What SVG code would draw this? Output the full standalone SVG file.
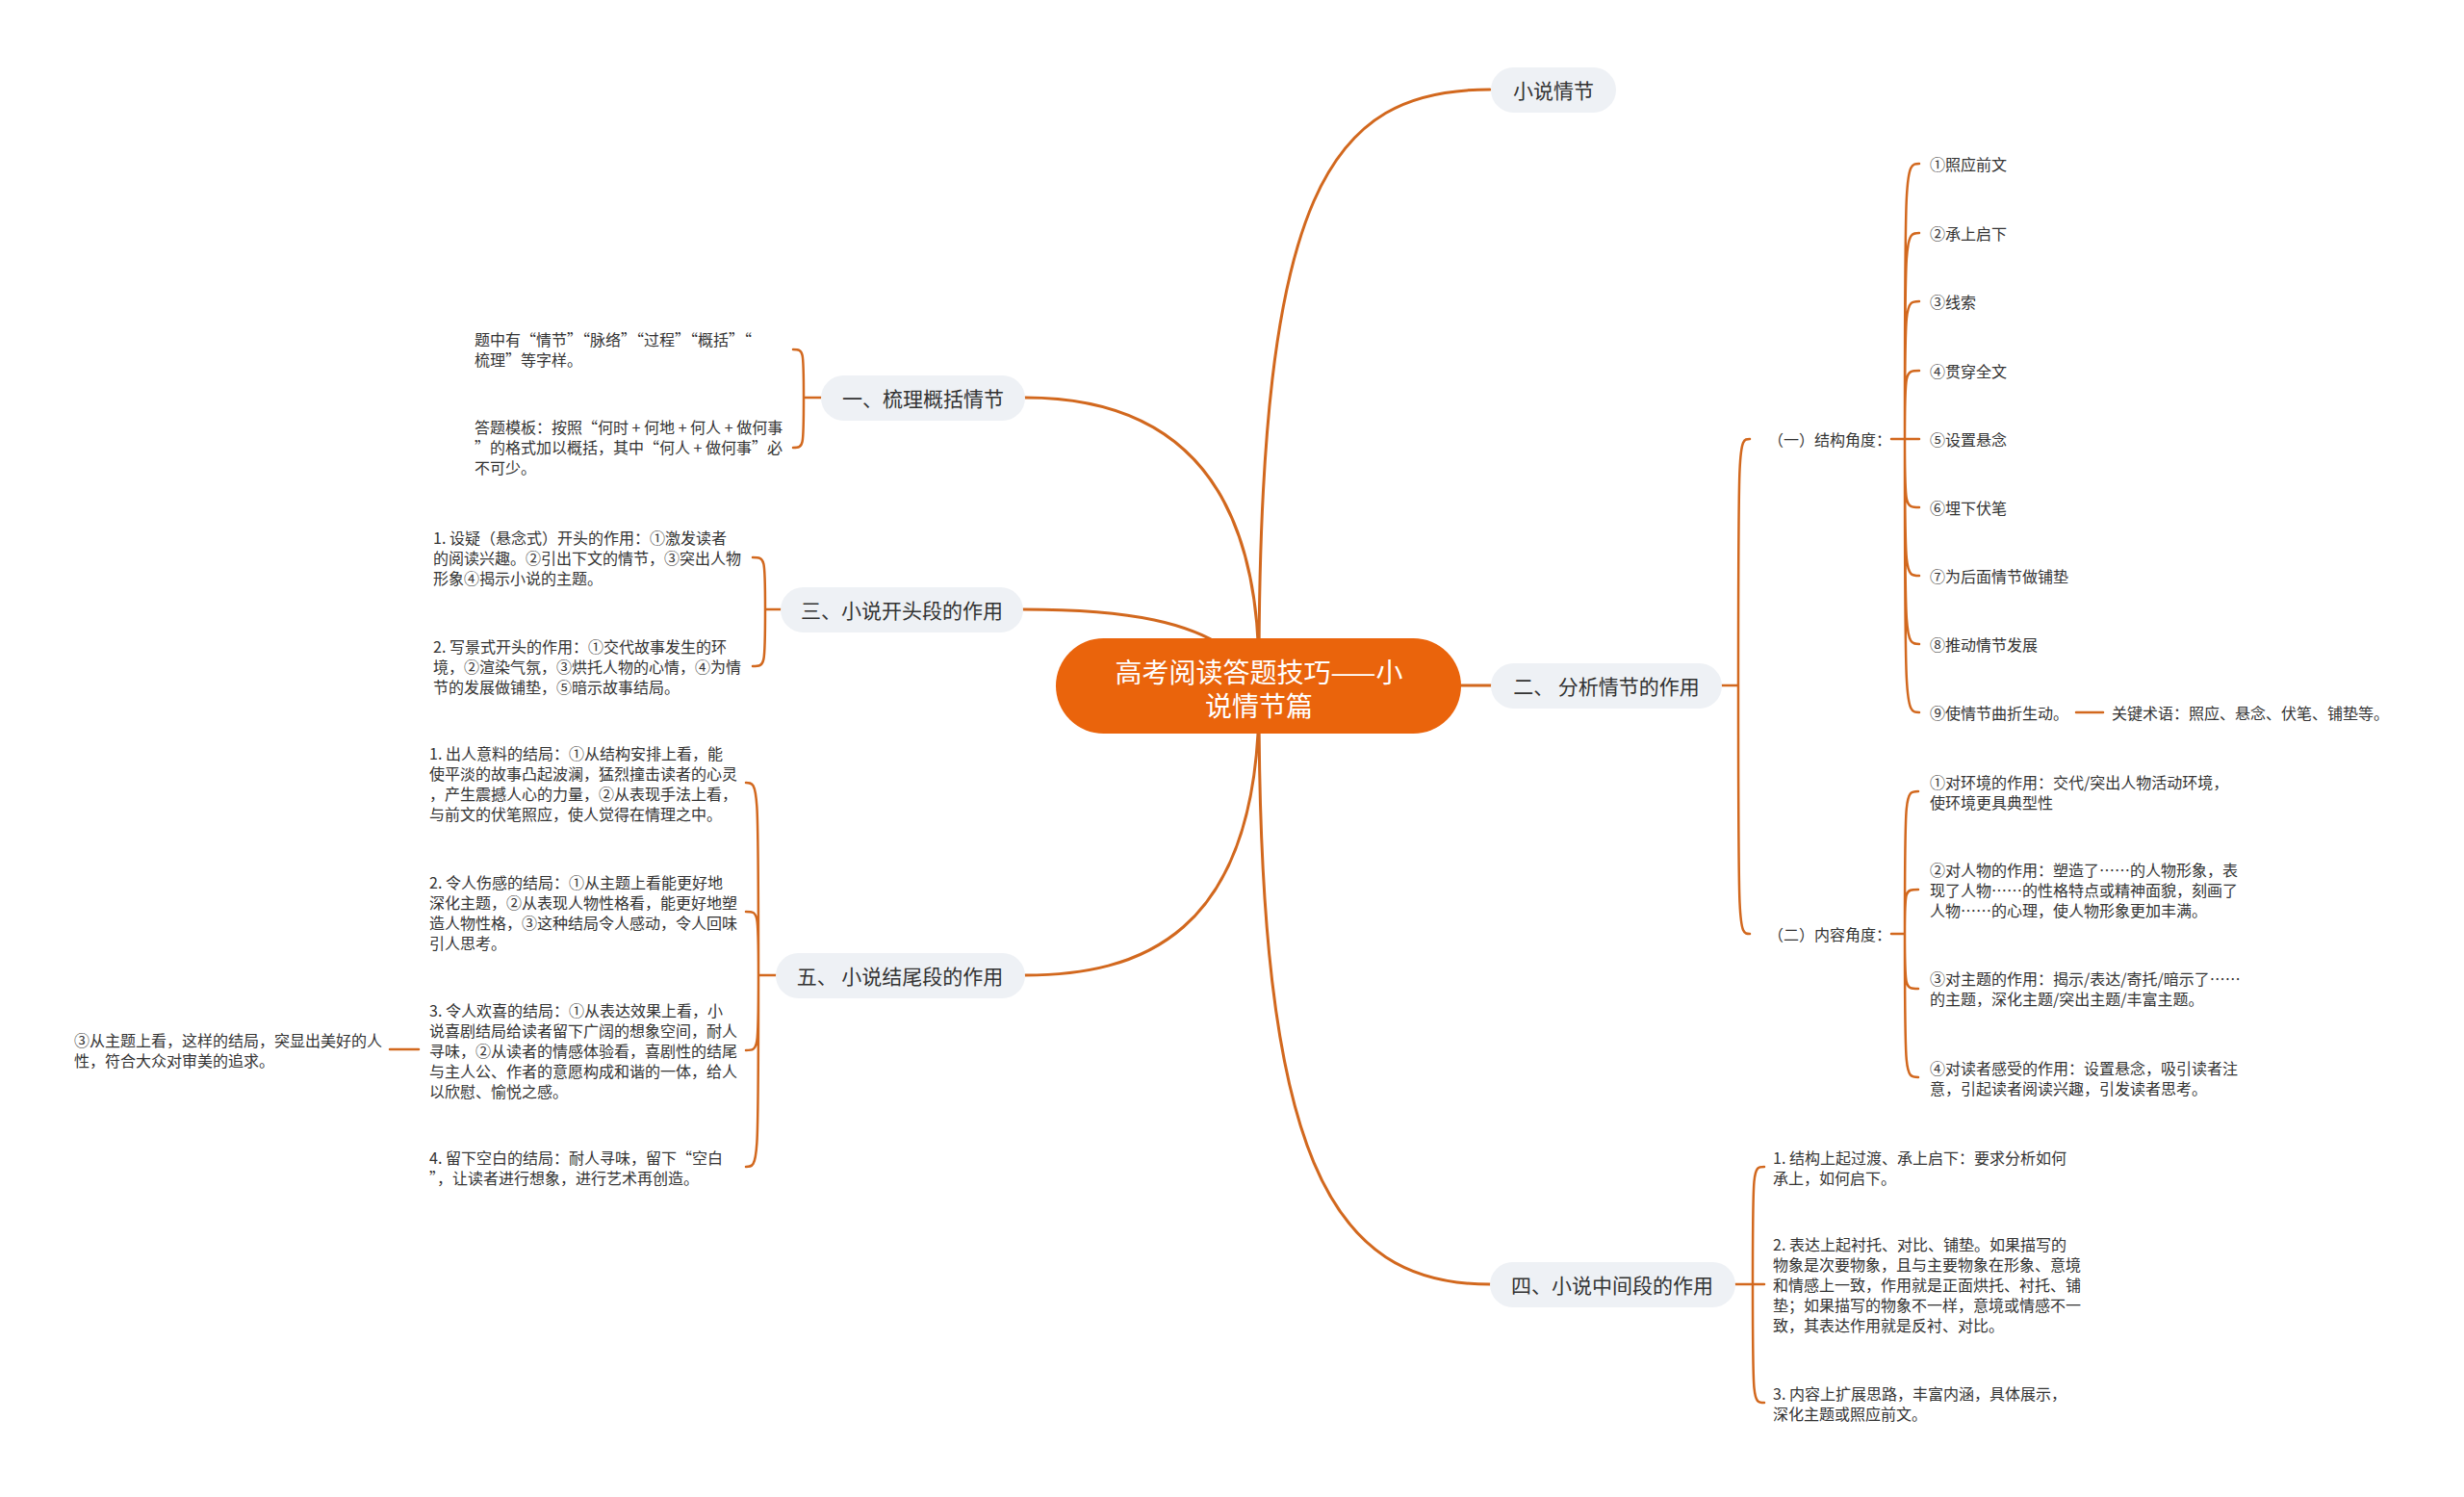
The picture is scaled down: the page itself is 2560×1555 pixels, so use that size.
<svg xmlns="http://www.w3.org/2000/svg" width="2560" height="1555" viewBox="0 0 2560 1555">
<style>
text{font-family:"Noto Sans CJK SC","Noto Sans",sans-serif;dominant-baseline:central;}
.n1 rect{fill:#EEF1F5;}
.t1{font-size:21px;fill:#333333;text-anchor:middle;}
.t2{font-size:16px;fill:#333333;}
.root rect{fill:#EA640C;}
.t0{font-size:28px;fill:#FFFFFF;text-anchor:middle;}
#connectors path{fill:none;stroke:#D2681E;stroke-width:2.5;stroke-linecap:round;}
#connectors path.m{stroke-width:3;}
</style>
<rect x="0" y="0" width="2560" height="1555" fill="#FFFFFF"/>
<g id="connectors">
<path class="m" d="M1308 700 C1308 200 1380 93 1548 93"/>
<path class="m" d="M1308 700 C1308 460 1180 413 1065 413"/>
<path class="m" d="M1300 700 C1260 640 1150 633 1063 633"/>
<path class="m" d="M1518 712 L1549 712"/>
<path class="m" d="M1308 725 C1308 975 1180 1013 1065 1013"/>
<path class="m" d="M1308 725 C1308 1200 1380 1334 1548 1334"/>
<path d="M853 413 H835 M835 413 C835 363 835 363 824 363 M835 413 C835 465 835 465 824 465"/>
<path d="M811 633 H795 M795 633 C795 579 795 579 782 579 M795 633 C795 692 795 692 782 692"/>
<path d="M806 1013 H788 M788 1013 C788 813 788 813 775 813 M788 1013 C788 947 788 947 775 947 M788 1013 C788 1091 788 1091 775 1091 M788 1013 C788 1212 788 1212 775 1212"/>
<path d="M435 1090 H405"/>
<path d="M1789 712 H1806 M1806 712 C1806 456 1806 456 1818 456 M1806 712 C1806 970 1806 970 1818 970"/>
<path d="M1965 456 H1994 M1979 456 C1979 170 1979 170 1994 170 M1979 456 C1979 242 1979 242 1994 242 M1979 456 C1979 313 1979 313 1994 313 M1979 456 C1979 385 1979 385 1994 385 M1979 456 C1979 527 1979 527 1994 527 M1979 456 C1979 598 1979 598 1994 598 M1979 456 C1979 669 1979 669 1994 669 M1979 456 C1979 740 1979 740 1994 740"/>
<path d="M2157 740 H2185"/>
<path d="M1965 970 H1979 M1979 970 C1979 822 1979 822 1993 822 M1979 970 C1979 924 1979 924 1993 924 M1979 970 C1979 1027 1979 1027 1993 1027 M1979 970 C1979 1119 1979 1119 1993 1119"/>
<path d="M1803 1334 H1833 M1821 1334 C1821 1212 1821 1212 1833 1212 M1821 1334 C1821 1457 1821 1457 1833 1457"/>
</g>
<g id="root" class="root">
<rect x="1097" y="663" width="421" height="99" rx="49.5"/>
<text class="t0"><tspan x="1308" y="697">高考阅读答题技巧——小</tspan><tspan x="1308" y="732">说情节篇</tspan></text>
</g>
<g id="n-xiaoshuoqingjie" class="n1">
<rect x="1549" y="70" width="130" height="47" rx="23.5"/>
<text class="t1" x="1614" y="93">小说情节</text>
</g>
<g id="n-yi" class="n1">
<rect x="853" y="390" width="212" height="47" rx="23.5"/>
<text class="t1" x="959" y="413">一、梳理概括情节</text>
</g>
<g id="n-san" class="n1">
<rect x="811" y="610" width="252" height="47" rx="23.5"/>
<text class="t1" x="937" y="633">三、小说开头段的作用</text>
</g>
<g id="n-wu" class="n1">
<rect x="806" y="990" width="259" height="47" rx="23.5"/>
<text class="t1" x="935" y="1013">五、 小说结尾段的作用</text>
</g>
<g id="n-er" class="n1">
<rect x="1549" y="689" width="240" height="47" rx="23.5"/>
<text class="t1" x="1669" y="712">二、 分析情节的作用</text>
</g>
<g id="n-si" class="n1">
<rect x="1548" y="1311" width="255" height="47" rx="23.5"/>
<text class="t1" x="1675" y="1334">四、小说中间段的作用</text>
</g>
<g id="yi-1"><text class="t2"><tspan x="493" y="352">题中有“情节”“脉络”“过程”“概括”“</tspan><tspan x="493" y="373">梳理”等字样。</tspan></text></g>
<g id="yi-2"><text class="t2"><tspan x="493" y="443">答题模板：按照“何时 + 何地 + 何人 + 做何事</tspan><tspan x="493" y="464">”的格式加以概括，其中“何人 + 做何事”必</tspan><tspan x="493" y="485">不可少。</tspan></text></g>
<g id="san-1"><text class="t2"><tspan x="450" y="558">1. 设疑（悬念式）开头的作用：①激发读者</tspan><tspan x="450" y="579">的阅读兴趣。②引出下文的情节，③突出人物</tspan><tspan x="450" y="600">形象④揭示小说的主题。</tspan></text></g>
<g id="san-2"><text class="t2"><tspan x="450" y="671">2. 写景式开头的作用：①交代故事发生的环</tspan><tspan x="450" y="692">境，②渲染气氛，③烘托人物的心情，④为情</tspan><tspan x="450" y="713">节的发展做铺垫，⑤暗示故事结局。</tspan></text></g>
<g id="wu-1"><text class="t2"><tspan x="446" y="782">1. 出人意料的结局：①从结构安排上看，能</tspan><tspan x="446" y="803">使平淡的故事凸起波澜，猛烈撞击读者的心灵</tspan><tspan x="446" y="824">，产生震撼人心的力量，②从表现手法上看，</tspan><tspan x="446" y="845">与前文的伏笔照应，使人觉得在情理之中。</tspan></text></g>
<g id="wu-2"><text class="t2"><tspan x="446" y="916">2. 令人伤感的结局：①从主题上看能更好地</tspan><tspan x="446" y="937">深化主题，②从表现人物性格看，能更好地塑</tspan><tspan x="446" y="958">造人物性格，③这种结局令人感动，令人回味</tspan><tspan x="446" y="979">引人思考。</tspan></text></g>
<g id="wu-3"><text class="t2"><tspan x="446" y="1049">3. 令人欢喜的结局：①从表达效果上看，小</tspan><tspan x="446" y="1070">说喜剧结局给读者留下广阔的想象空间，耐人</tspan><tspan x="446" y="1091">寻味，②从读者的情感体验看，喜剧性的结尾</tspan><tspan x="446" y="1112">与主人公、作者的意愿构成和谐的一体，给人</tspan><tspan x="446" y="1133">以欣慰、愉悦之感。</tspan></text></g>
<g id="wu-3-1"><text class="t2"><tspan x="77" y="1080">③从主题上看，这样的结局，突显出美好的人</tspan><tspan x="77" y="1101">性，符合大众对审美的追求。</tspan></text></g>
<g id="wu-4"><text class="t2"><tspan x="446" y="1202">4. 留下空白的结局：耐人寻味，留下“空白</tspan><tspan x="446" y="1223">”，让读者进行想象，进行艺术再创造。</tspan></text></g>
<g id="er-1"><text class="t2" x="1837" y="456">（一）结构角度：</text></g>
<g id="er-1-1"><text class="t2" x="2005" y="170">①照应前文</text></g>
<g id="er-1-2"><text class="t2" x="2005" y="242">②承上启下</text></g>
<g id="er-1-3"><text class="t2" x="2005" y="313">③线索</text></g>
<g id="er-1-4"><text class="t2" x="2005" y="385">④贯穿全文</text></g>
<g id="er-1-5"><text class="t2" x="2005" y="456">⑤设置悬念</text></g>
<g id="er-1-6"><text class="t2" x="2005" y="527">⑥埋下伏笔</text></g>
<g id="er-1-7"><text class="t2" x="2005" y="598">⑦为后面情节做铺垫</text></g>
<g id="er-1-8"><text class="t2" x="2005" y="669">⑧推动情节发展</text></g>
<g id="er-1-9"><text class="t2" x="2005" y="740">⑨使情节曲折生动。</text></g>
<g id="er-1-9-1"><text class="t2" x="2194" y="740">关键术语：照应、悬念、伏笔、铺垫等。</text></g>
<g id="er-2"><text class="t2" x="1837" y="970">（二）内容角度：</text></g>
<g id="er-2-1"><text class="t2"><tspan x="2005" y="812">①对环境的作用：交代/突出人物活动环境，</tspan><tspan x="2005" y="833">使环境更具典型性</tspan></text></g>
<g id="er-2-2"><text class="t2"><tspan x="2005" y="903">②对人物的作用：塑造了……的人物形象，表</tspan><tspan x="2005" y="924">现了人物……的性格特点或精神面貌，刻画了</tspan><tspan x="2005" y="945">人物……的心理，使人物形象更加丰满。</tspan></text></g>
<g id="er-2-3"><text class="t2"><tspan x="2005" y="1016">③对主题的作用：揭示/表达/寄托/暗示了……</tspan><tspan x="2005" y="1037">的主题，深化主题/突出主题/丰富主题。</tspan></text></g>
<g id="er-2-4"><text class="t2"><tspan x="2005" y="1109">④对读者感受的作用：设置悬念，吸引读者注</tspan><tspan x="2005" y="1130">意，引起读者阅读兴趣，引发读者思考。</tspan></text></g>
<g id="si-1"><text class="t2"><tspan x="1842" y="1202">1. 结构上起过渡、承上启下：要求分析如何</tspan><tspan x="1842" y="1223">承上，如何启下。</tspan></text></g>
<g id="si-2"><text class="t2"><tspan x="1842" y="1292">2. 表达上起衬托、对比、铺垫。如果描写的</tspan><tspan x="1842" y="1313">物象是次要物象，且与主要物象在形象、意境</tspan><tspan x="1842" y="1334">和情感上一致，作用就是正面烘托、衬托、铺</tspan><tspan x="1842" y="1355">垫；如果描写的物象不一样，意境或情感不一</tspan><tspan x="1842" y="1376">致，其表达作用就是反衬、对比。</tspan></text></g>
<g id="si-3"><text class="t2"><tspan x="1842" y="1447">3. 内容上扩展思路，丰富内涵，具体展示，</tspan><tspan x="1842" y="1468">深化主题或照应前文。</tspan></text></g>
</svg>
